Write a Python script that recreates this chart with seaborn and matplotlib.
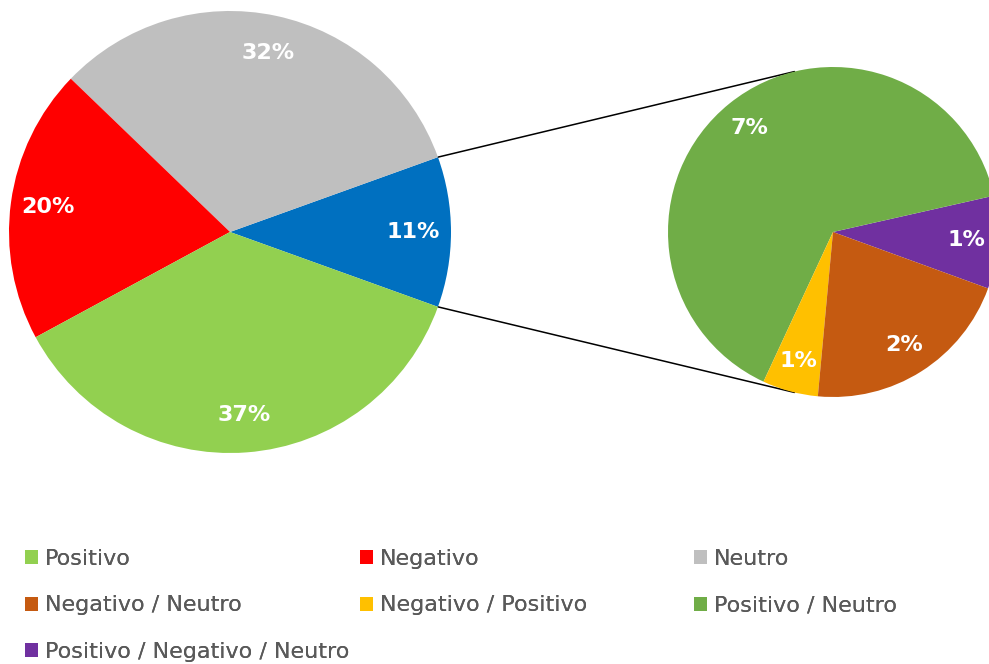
import numpy as np
import matplotlib
matplotlib.use("Agg")
import matplotlib.pyplot as plt
from matplotlib.patches import Patch
import seaborn as sns

# Main categories
main_labels = ["Positivo", "Negativo", "Neutro"]
main_values = [36.6, 20.1, 32.3]
main_colors = ["#92D050", "#FF0000", "#BFBFBF"]

# Mixed-sentiment categories, shown in the secondary pie
mixed_labels = ["Negativo / Neutro", "Negativo / Positivo",
                "Positivo / Neutro", "Positivo / Negativo / Neutro"]
mixed_values = [2.3, 0.6, 7.1, 1.0]
mixed_colors = ["#C55A11", "#FFC000", "#70AD47", "#7030A0"]
other_color = "#0070C0"

sns.set_theme(style="white")
plt.rcParams["font.family"] = ["DejaVu Sans"]

W, H = 989, 664
fig = plt.figure(figsize=(W / 100, H / 100), dpi=100)
ax = fig.add_axes([0, 0, 1, 1])

other = sum(mixed_values)
total = sum(main_values) + other

# Geometry of both pies (pixel-like data units, y up)
c1, r1 = (230.0, 432.0), 221.0
c2, r2 = (833.0, 432.0), 165.0

label_kw = dict(color="white", fontsize=16, fontweight="bold",
                ha="center", va="center")

# Main pie: "other" wedge centred on the right, then Neutro, Negativo, Positivo
pie1_vals = [other, main_values[2], main_values[1], main_values[0]]
pie1_cols = [other_color, main_colors[2], main_colors[1], main_colors[0]]
half = other / total * 360 / 2
ax.pie(pie1_vals, colors=pie1_cols, center=c1, radius=r1,
       startangle=-half, counterclock=True,
       autopct=lambda p: f"{round(p * total / 100):.0f}%", pctdistance=0.83,
       wedgeprops=dict(linewidth=0), textprops=label_kw)

# Secondary pie breaking down the "other" wedge
order = [3, 2, 1, 0]
pie2_vals = [mixed_values[i] for i in order]
pie2_cols = [mixed_colors[i] for i in order]
ax.pie(pie2_vals, colors=pie2_cols, center=c2, radius=r2,
       startangle=-20, counterclock=True,
       autopct=lambda p: f"{round(p * other / 100):.0f}%", pctdistance=0.81,
       wedgeprops=dict(linewidth=0), textprops=label_kw)

# Connector lines: from the edges of the "other" wedge, tangent to the second pie
for sgn in (1, -1):
    a = np.deg2rad(sgn * half)
    p = np.array([c1[0] + r1 * np.cos(a), c1[1] + r1 * np.sin(a)])
    v = np.array(c2) - p
    d = np.hypot(*v)
    base = np.arctan2(v[1], v[0])
    off = np.arcsin(r2 / d)
    ang = base + sgn * off
    L = np.sqrt(d ** 2 - r2 ** 2)
    q = p + L * np.array([np.cos(ang), np.sin(ang)])
    ax.plot([p[0], q[0]], [p[1], q[1]], color="black", lw=1.1, zorder=0)

ax.set_xlim(0, W)
ax.set_ylim(0, H)
ax.set_aspect("auto")
ax.axis("off")

# Legend laid out as a three-column grid, filled row by row
all_labels = main_labels + mixed_labels
all_colors = main_colors + mixed_colors
col_x = [25 / W, 360 / W, 694 / W]
top_y = (H - 549) / H
for c in range(3):
    idx = list(range(c, len(all_labels), 3))
    handles = [Patch(facecolor=all_colors[i], edgecolor="none") for i in idx]
    leg = fig.legend(handles, [all_labels[i] for i in idx],
                     loc="upper left", bbox_to_anchor=(col_x[c], top_y),
                     bbox_transform=fig.transFigure, frameon=False,
                     fontsize=16, labelcolor="#595959",
                     handlelength=0.6, handleheight=0.6, handletextpad=0.28,
                     labelspacing=1.19, borderpad=0, borderaxespad=0)
    fig.add_artist(leg)

fig.savefig("out.png", dpi=100)
